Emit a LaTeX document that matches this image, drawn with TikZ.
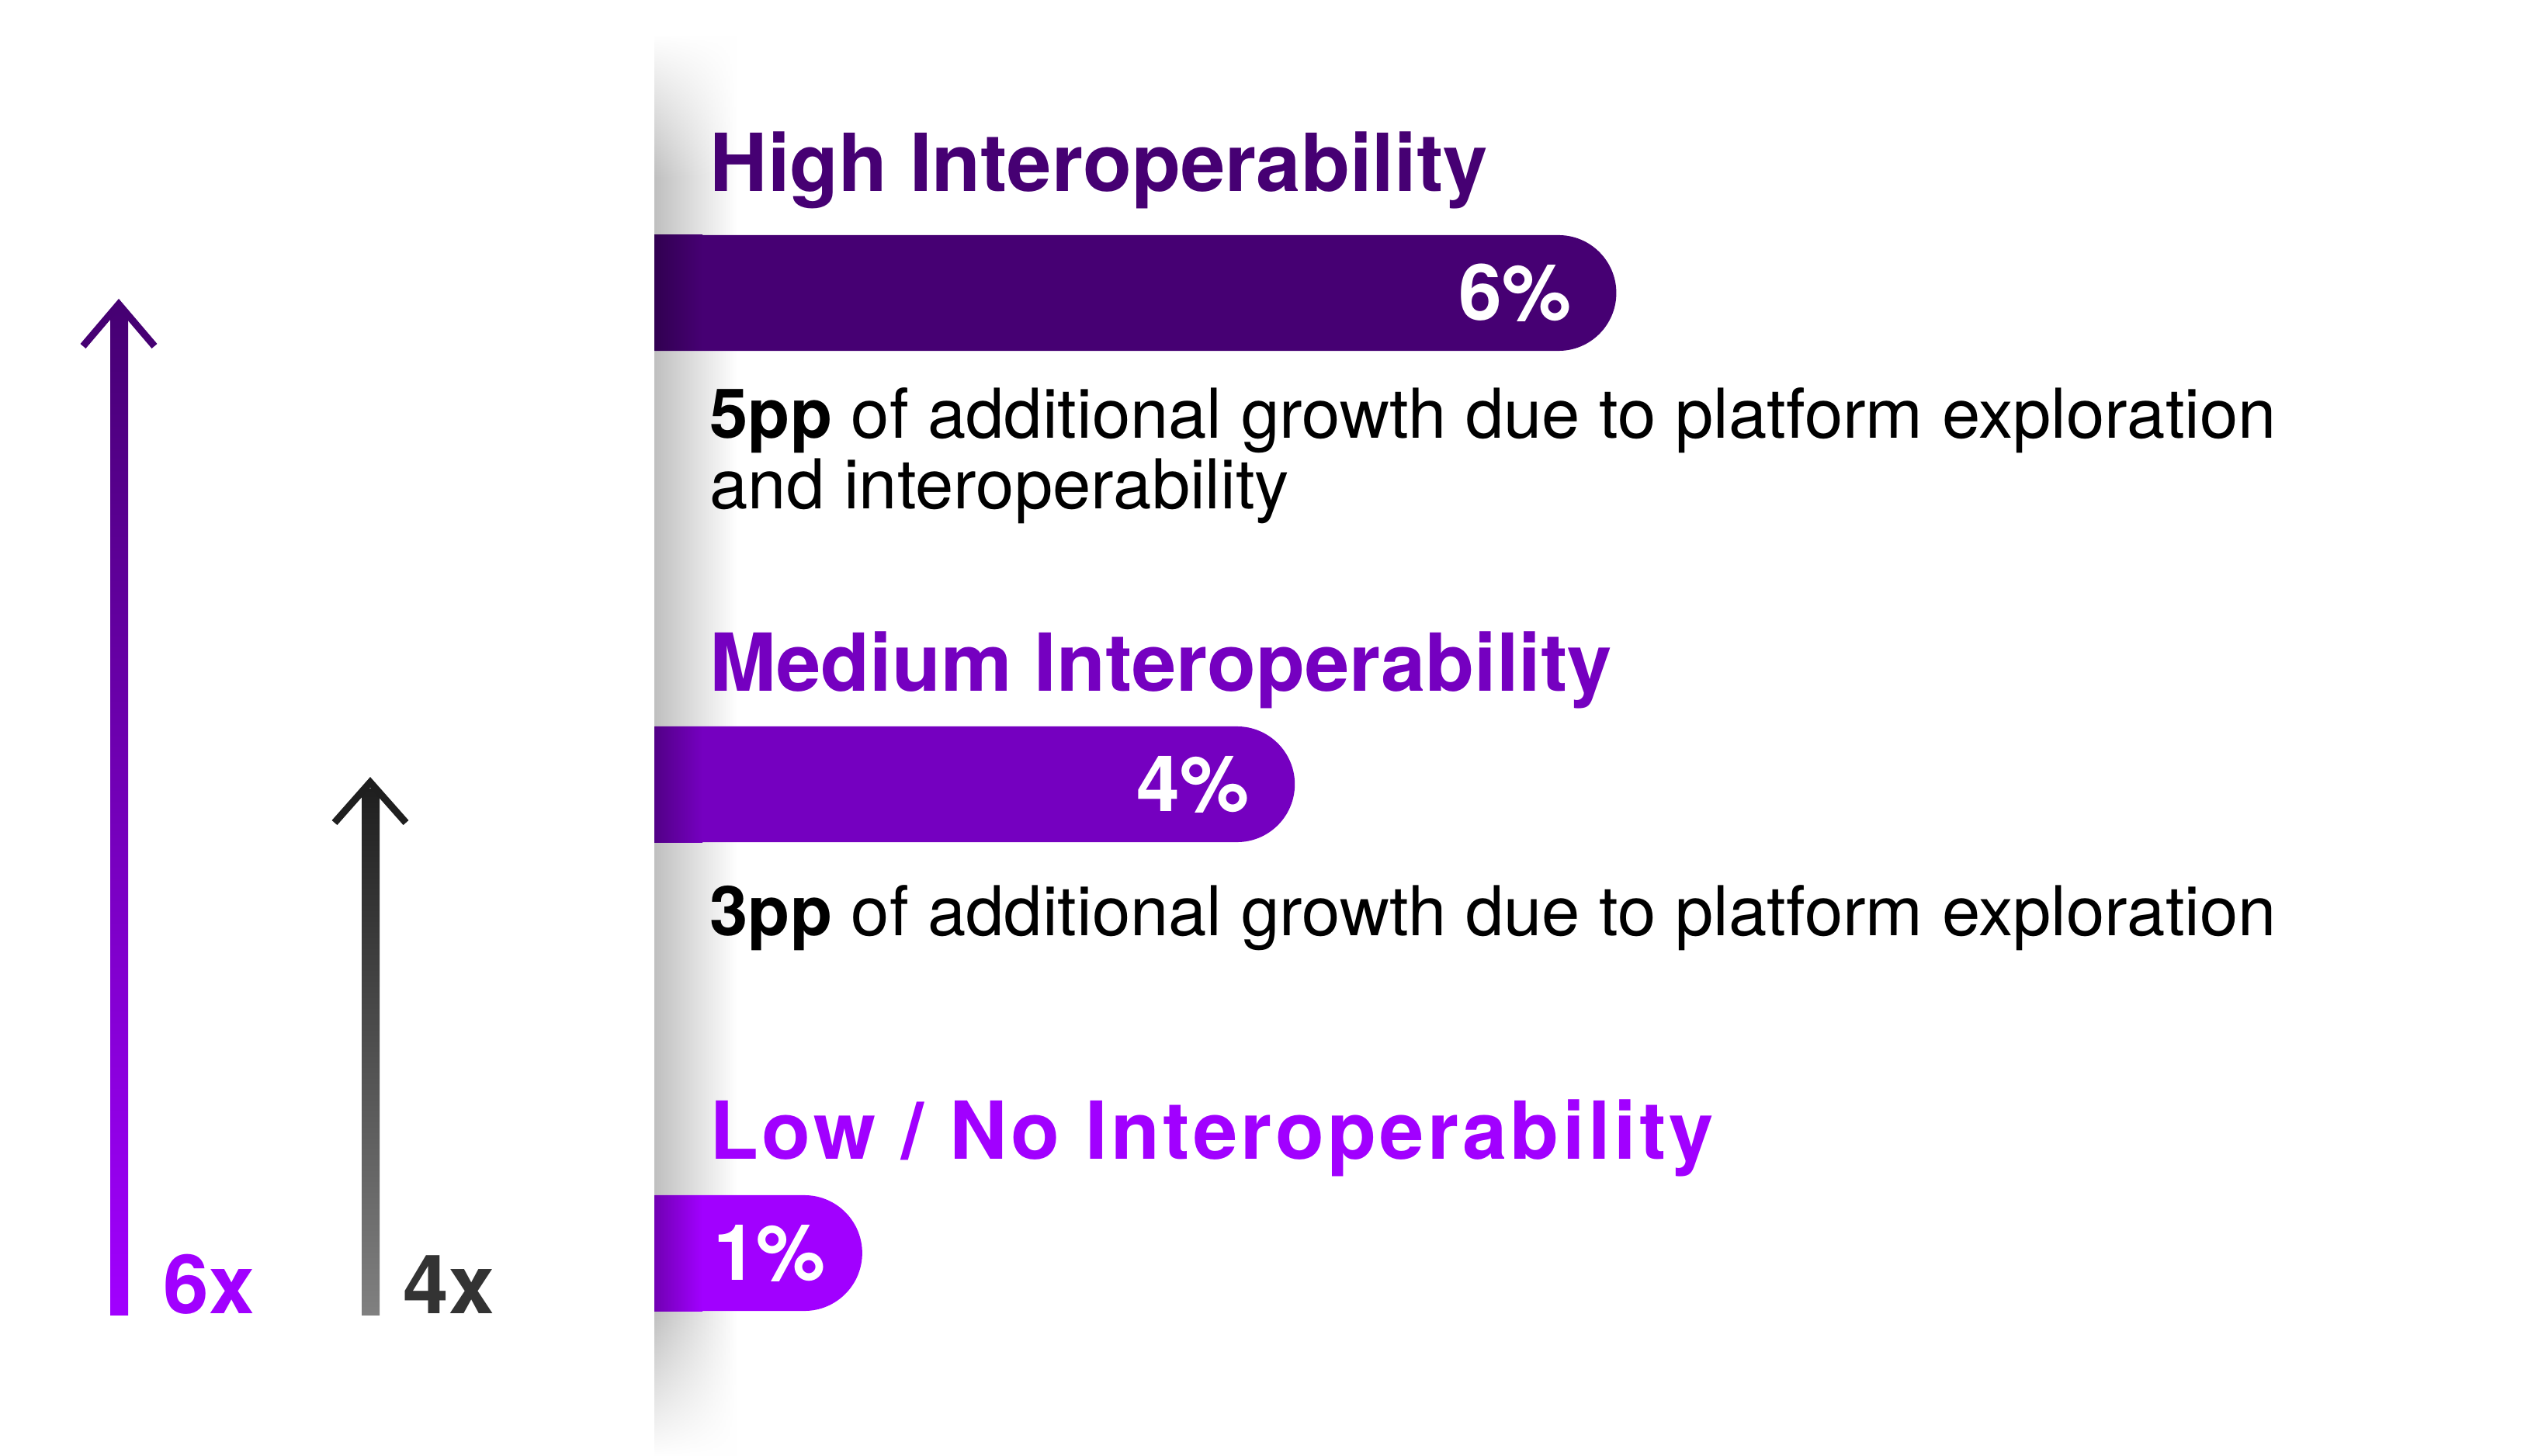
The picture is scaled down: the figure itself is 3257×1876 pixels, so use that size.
\documentclass[tikz,border=0pt]{standalone}
\usepackage{fontspec}
\setmainfont{TeX Gyre Heros}
\usetikzlibrary{positioning,fadings,shapes.misc}

\definecolor{accdark}{HTML}{460073}
\definecolor{accmid}{HTML}{7500C0}
\definecolor{acclight}{HTML}{A100FF}
\definecolor{greytop}{HTML}{1F1F1F}
\definecolor{greybot}{HTML}{808080}
\definecolor{greytext}{HTML}{333333}

\tikzfading[name=shadow top, top color=transparent!0, bottom color=transparent!100]
\tikzfading[name=shadow foot, top color=transparent!100, bottom color=transparent!0]

\begin{document}
\begin{tikzpicture}[x=0.01cm, y=-0.01cm,
    title/.style={anchor=base west, inner sep=0pt, font=\fontsize{29.3}{34}\selectfont\bfseries},
    note/.style={anchor=base west, inner sep=0pt, align=left, font=\fontsize{25.2}{25.9}\selectfont},
    bar/.style={rounded rectangle, rounded rectangle west arc=none, anchor=west,
        minimum height=1.49cm, inner sep=0pt},
    pct/.style={anchor=east, inner sep=0pt, text=white, font=\fontsize{28.5}{30}\selectfont\bfseries},
    mult/.style={anchor=base west, inner sep=0pt, font=\fontsize{30}{32}\selectfont\bfseries},
    chevron/.style={line width=2.6pt, miter limit=10},
]
    \useasboundingbox (0,0) rectangle (3257,1876);
    % Schatten
    \fill[left color=black!25, right color=white] (843,45) rectangle (950,1876);
    \fill[white] (840,30) rectangle (955,47);
    \fill[white, path fading=shadow top] (840,45) rectangle (955,230);
    \fill[white, path fading=shadow foot] (840,1690) rectangle (955,1876);
    % Pfeile
    \coordinate (six head) at (153,392);
    \coordinate (four head) at (477,1008);
    \shade[top color=accdark, bottom color=acclight] (142,400) rectangle (165,1694);
    \draw[chevron, accdark] ([shift={(-46,54)}]six head) -- (six head) -- ([shift={(46,54)}]six head);
    \shade[top color=greytop, bottom color=greybot] (466,1016) rectangle (489,1694);
    \draw[chevron, greytop] ([shift={(-46,52)}]four head) -- (four head) -- ([shift={(46,52)}]four head);
    \node[mult, text=acclight] (six) at (210,1692) {6x};
    \node[mult, text=greytext] (four) at (519,1692) {4x};
    % Balken
    \node[bar, fill=accdark, minimum width=12.38cm] (bar high) at (843,377.5) {};
    \node[bar, fill=accmid, minimum width=8.24cm] (bar mid) at (843,1010.5) {};
    \node[bar, fill=acclight, minimum width=2.67cm] (bar low) at (843,1614.5) {};
    \fill[left color=accdark!70!black, right color=accdark] (843,303) rectangle (905,452);
    \fill[left color=accmid!70!black, right color=accmid] (843,936) rectangle (905,1085);
    \fill[left color=acclight!70!black, right color=acclight] (843,1540) rectangle (905,1689);
    \node[pct, left=0.58cm of bar high.east] (pct high) {6\%};
    \node[pct, left=0.59cm of bar mid.east] (pct mid) {4\%};
    \node[pct, left=0.47cm of bar low.east] (pct low) {1\%};
    % Texte
    \node[title, text=accdark] (title high) at (914,247) {High Interoperability};
    \node[note] (note high) at (914,656) {\textbf{5pp} of additional growth due to platform exploration\\and interoperability};
    \node[title, text=accmid] (title mid) at (914,890) {Medium Interoperability};
    \node[note] (note mid) at (914,1205) {\textbf{3pp} of additional growth due to platform exploration};
    \node[title, text=acclight] (title low) at (914,1493) {\addfontfeature{LetterSpace=4.2}Low / No Interoperability};
\end{tikzpicture}
\end{document}
